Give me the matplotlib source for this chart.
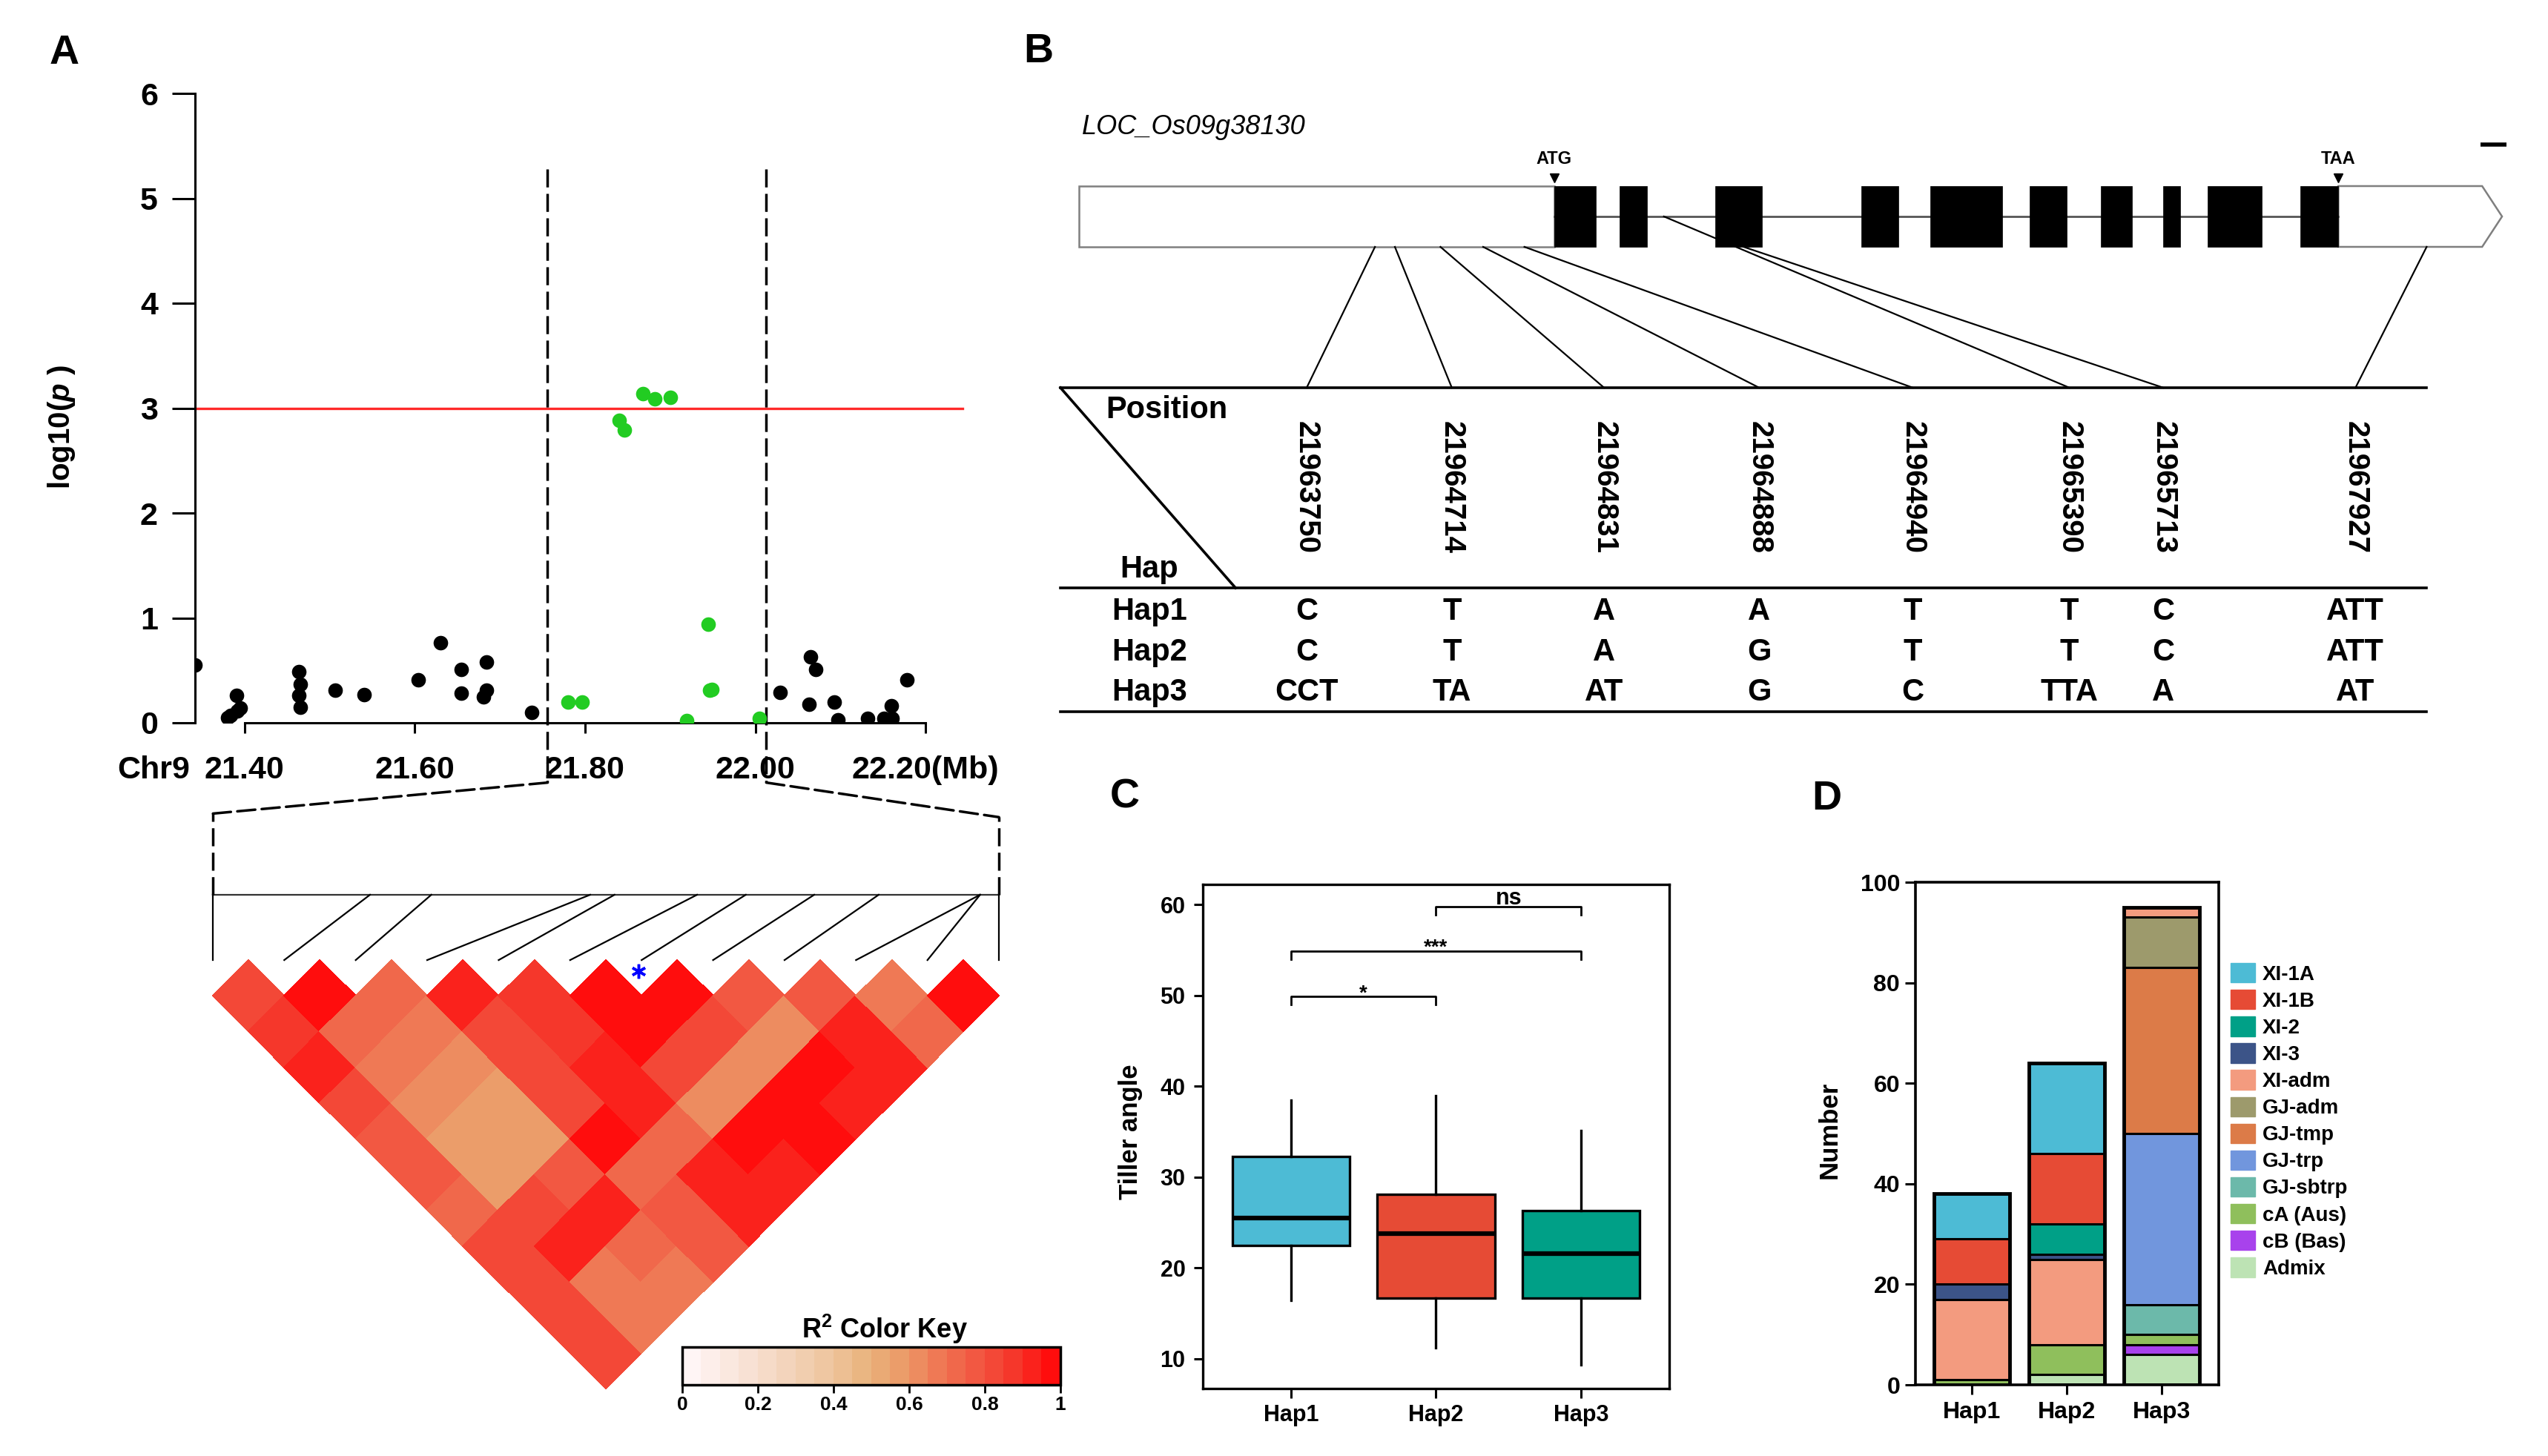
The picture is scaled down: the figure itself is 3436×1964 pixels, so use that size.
import numpy as np
import matplotlib
matplotlib.use('Agg')
import matplotlib.pyplot as plt
from matplotlib.patches import Rectangle, Polygon, Patch, ConnectionPatch
from matplotlib.colors import LinearSegmentedColormap, Normalize
from matplotlib.cm import ScalarMappable

plt.rcParams['font.family'] = ['Liberation Sans', 'DejaVu Sans']
plt.rcParams['font.weight'] = 'bold'
plt.rcParams['axes.labelweight'] = 'bold'
plt.rcParams['mathtext.fontset'] = 'custom'
plt.rcParams['mathtext.it'] = 'Liberation Sans:italic:bold'
plt.rcParams['mathtext.bf'] = 'Liberation Sans:bold'
plt.rcParams['mathtext.rm'] = 'Liberation Sans:bold'
plt.rcParams['mathtext.default'] = 'bf'

# ---- A: association scan on Chr9 (Mb, -log10 p) ----
black_pos = [21.342, 21.391, 21.384, 21.392, 21.395, 21.380, 21.464, 21.466, 21.464, 21.466,
             21.507, 21.541, 21.604, 21.630, 21.655, 21.655, 21.684, 21.684, 21.681, 21.737,
             22.029, 22.065, 22.071, 22.063, 22.093, 22.097, 22.132, 22.151, 22.160, 22.161, 22.178]
black_p = [0.55, 0.26, 0.07, 0.11, 0.14, 0.05, 0.49, 0.37, 0.26, 0.15,
           0.31, 0.27, 0.41, 0.76, 0.51, 0.28, 0.58, 0.31, 0.25, 0.10,
           0.29, 0.63, 0.51, 0.18, 0.20, 0.03, 0.04, 0.04, 0.16, 0.04, 0.41]
green_pos = [21.780, 21.797, 21.840, 21.846, 21.868, 21.882, 21.900, 21.919, 21.945, 21.946, 21.949, 22.005]
green_p = [0.20, 0.20, 2.88, 2.79, 3.14, 3.09, 3.10, 0.02, 0.94, 0.31, 0.32, 0.04]
threshold = 3
region = [21.756, 22.013]
scan_ticks = [21.40, 21.60, 21.80, 22.00, 22.20]
scan_tick_labels = ['21.40', '21.60', '21.80', '22.00', '22.20(Mb)']

# ---- A: LD block (r2 by diagonal offset, 12 SNPs) ----
ld_diag = [
    [0.80, 1.00, 0.72, 0.92, 0.85, 1.00, 1.00, 0.75, 0.78, 0.66, 1.00],
    [0.85, 0.72, 0.68, 0.80, 0.87, 1.00, 0.80, 0.60, 0.90, 0.70],
    [0.90, 0.66, 0.60, 0.82, 0.90, 0.80, 0.60, 0.95, 0.90],
    [0.82, 0.64, 0.55, 0.82, 0.92, 0.60, 0.95, 0.92],
    [0.78, 0.55, 0.55, 0.95, 0.72, 1.00, 0.95],
    [0.75, 0.55, 0.75, 0.72, 0.90, 0.93],
    [0.74, 0.80, 0.90, 0.75, 0.90],
    [0.80, 0.90, 0.70, 0.78],
    [0.80, 0.68, 0.68],
    [0.80, 0.68],
    [0.80],
]
ld_pos = [0.0, 0.200, 0.278, 0.480, 0.511, 0.616, 0.678, 0.765, 0.847, 0.976, 0.976, 1.0]
lead_snp = 6
key_ticks = [0, 0.2, 0.4, 0.6, 0.8, 1]
key_labels = ['0', '0.2', '0.4', '0.6', '0.8', '1']

# ---- B: gene model (schematic units 0-100) and haplotypes ----
exon_start = [33.4, 38.0, 44.7, 55.0, 59.8, 66.8, 71.8, 76.2, 79.3, 85.8]
exon_end = [36.3, 39.9, 48.0, 57.6, 64.9, 69.4, 74.0, 77.4, 83.1, 88.5]
arrow_start, gene_end = 98.6, 100.0
snp_gene_x = [20.8, 22.2, 25.4, 28.4, 31.3, 41.1, 46.7, 94.7]
snp_in_intron = [False, False, False, False, False, True, False, False]
col_x = [16.0, 26.2, 36.9, 47.8, 58.6, 69.6, 76.2, 89.7]
positions = ['21963750', '21964714', '21964831', '21964888', '21964940', '21965390', '21965713', '21967927']
hap_names = ['Hap1', 'Hap2', 'Hap3']
hap_alleles = [
    ['C', 'T', 'A', 'A', 'T', 'T', 'C', 'ATT'],
    ['C', 'T', 'A', 'G', 'T', 'T', 'C', 'ATT'],
    ['CCT', 'TA', 'AT', 'G', 'C', 'TTA', 'A', 'AT'],
]

# ---- C: tiller angle boxplot ----
box_med = [25.5, 23.8, 21.6]
box_q1 = [22.5, 16.7, 16.7]
box_q3 = [32.3, 28.1, 26.3]
box_lo = [16.4, 11.2, 9.3]
box_hi = [38.5, 39.0, 35.1]
box_colors = ['#4dbbd5', '#e64b35', '#00a087']
cmp_left = [1, 1, 2]
cmp_right = [2, 3, 3]
cmp_y = [49.9, 54.9, 59.8]
cmp_label = ['*', '***', 'ns']

# ---- D: subpopulation composition ----
subpops = ['XI-1A', 'XI-1B', 'XI-2', 'XI-3', 'XI-adm', 'GJ-adm', 'GJ-tmp', 'GJ-trp',
           'GJ-sbtrp', 'cA (Aus)', 'cB (Bas)', 'Admix']
sub_colors = ['#4dbbd5', '#e64b35', '#00a087', '#3c5488', '#f39b7f', '#9d9a6c', '#dc7b48',
              '#7196dd', '#6cb9aa', '#8fbf5c', '#a842ec', '#bde3b4']
sub_counts = [
    [9, 18, 0], [9, 14, 0], [0, 6, 0], [3, 1, 0], [16, 17, 2], [0, 0, 10],
    [0, 0, 33], [0, 0, 34], [0, 0, 6], [1, 6, 2], [0, 0, 2], [0, 2, 6],
]

W, H = 3437, 1964


def box(x0, y0, x1, y1):
    return [x0 / W, 1 - y1 / H, (x1 - x0) / W, (y1 - y0) / H]


fig = plt.figure(figsize=(W / 100, H / 100), dpi=100)

# ================= A: scan =================
ax_a = fig.add_axes(box(263, 126, 1363, 975))
ax_a.scatter(black_pos, black_p, s=200, color='black', zorder=3, linewidths=0)
ax_a.scatter(green_pos, green_p, s=200, color='#22cc22', zorder=3, linewidths=0)
ax_a.plot([21.342, 22.243], [threshold, threshold], color='#ff2a2a', lw=2.4, zorder=2)
for xb in region:
    ax_a.plot([xb, xb], [5.28, -0.57], color='black', lw=2.5, ls=(0, (7, 2.5)), clip_on=False)
ax_a.set_xlim(21.342, 22.30)
ax_a.set_ylim(0, 6)
ax_a.spines['top'].set_visible(False)
ax_a.spines['right'].set_visible(False)
ax_a.spines['bottom'].set_bounds(21.40, 22.20)
for s in ['left', 'bottom']:
    ax_a.spines[s].set_linewidth(2.2)
ax_a.set_xticks(scan_ticks)
ax_a.set_xticklabels(scan_tick_labels)
ax_a.set_yticks(range(7))
ax_a.tick_params(axis='y', length=22, width=2.2, pad=14, labelsize=31)
ax_a.tick_params(axis='x', length=10, width=2.2, pad=22, labelsize=31)
ax_a.text(21.336, -0.052, 'Chr9', transform=ax_a.get_xaxis_transform(),
          ha='right', va='top', fontsize=31)
ax_a.set_ylabel(r'log10($\mathit{p}$ )', fontsize=29)
ax_a.yaxis.set_label_coords(-0.145, 0.47)

# ================= A: LD heatmap =================
ld_cmap = LinearSegmentedColormap.from_list(
    'r2key', [(0, '#fff5f5'), (0.2, '#f6dccb'), (0.4, '#eec39a'), (0.5, '#e9b17a'),
              (0.6, '#ec9866'), (0.7, '#ef7352'), (0.8, '#f25540'), (0.9, '#f5352a'),
              (1.0, '#ff0d0d')], N=20)
n_snp = len(ld_pos)
ax_ld = fig.add_axes(box(258, 1083, 1376, 1883))
ax_ld.set_xlim(-0.3, 11.3)
ax_ld.set_ylim(-6.1, 2.2)
ax_ld.axis('off')
a, b = np.meshgrid(np.arange(n_snp), np.arange(n_snp), indexing='ij')
X = (a + b) / 2.0
Y = -(b - a) / 2.0 - 0.5
C = np.ma.masked_all((n_snp - 1, n_snp - 1))
for d, row in enumerate(ld_diag):
    for i, v in enumerate(row):
        C[i, i + d] = v
ax_ld.pcolormesh(X, Y, C, cmap=ld_cmap, vmin=0, vmax=1, edgecolors='face', linewidth=0.3)
line_y = 0.914
span = n_snp - 1
ax_ld.plot([0, span], [line_y, line_y], color='#333333', lw=1.6)
for k, p in enumerate(ld_pos):
    ax_ld.plot([p * span, k], [line_y, 0], color='black', lw=1.6)
for xe, ytop in [(0, 2.05), (span, 2.0)]:
    ax_ld.plot([xe, xe], [line_y, ytop], color='black', lw=2.5, ls=(0, (7, 2.5)))
ax_ld.plot(lead_snp - 0.04, -0.15, marker=(6, 2, 0), ms=14, mew=2.5, color='blue')
for xb, xe, ytop in [(region[0], 0, 2.05), (region[1], span, 2.0)]:
    con = ConnectionPatch(xyA=(xb, -0.57), coordsA=ax_a.transData, xyB=(xe, ytop),
                          coordsB=ax_ld.transData, color='black', lw=2.5, ls=(0, (7, 2.5)))
    fig.add_artist(con)

cax = fig.add_axes(box(920, 1817, 1430, 1868))
cb = fig.colorbar(ScalarMappable(norm=Normalize(0, 1), cmap=ld_cmap), cax=cax,
                  orientation='horizontal', ticks=key_ticks)
cb.ax.set_xticklabels(key_labels)
cb.outline.set_linewidth(2.5)
cax.tick_params(labelsize=19, length=8, width=2, pad=3)
cax.text(0.535, 1.04, r'R$^{2}$ Color Key', transform=cax.transAxes, ha='center',
         va='bottom', fontsize=26)

# ================= B: gene model + haplotype table =================
ax_b = fig.add_axes(box(1400, 140, 3437, 1000))
ax_b.set_xlim(-2.866, 103.28)
ax_b.set_ylim(1000, 140)
ax_b.axis('off')
gy0, gy1, gmid = 251, 333, 292
ax_b.add_patch(Rectangle((0, gy0), exon_start[0], gy1 - gy0, fc='white', ec='#7f7f7f', lw=1.8))
ax_b.add_patch(Polygon([(exon_end[-1], gy0), (arrow_start, gy0), (gene_end, gmid),
                        (arrow_start, gy1), (exon_end[-1], gy1)], closed=True,
                       fc='white', ec='#7f7f7f', lw=1.8))
ax_b.plot([exon_start[0], exon_end[-1]], [gmid, gmid], color='#555555', lw=2)
for s, e in zip(exon_start, exon_end):
    ax_b.add_patch(Rectangle((s, gy0), e - s, gy1 - gy0, fc='black', ec='black', lw=0.5, zorder=3))
for xc, lab in [(exon_start[0], 'ATG'), (exon_end[-1], 'TAA')]:
    ax_b.plot(xc, 240, marker='v', color='black', ms=9)
    ax_b.text(xc, 226, lab, ha='center', va='bottom', fontsize=17)
ax_b.plot([98.5, 100.3], [195, 195], color='black', lw=4, solid_capstyle='butt')
ax_b.text(0.2, 172, 'LOC_Os09g38130', style='italic', fontweight='normal', fontsize=26,
          ha='left', va='center')

table_top, table_mid, table_bot = 523, 793, 960
for tx, intr, cx in zip(snp_gene_x, snp_in_intron, col_x):
    ax_b.plot([tx, cx], [gmid if intr else gy1, table_top], color='black', lw=1.6)
for yl in [table_top, table_mid, table_bot]:
    ax_b.plot([-1.3, 94.7], [yl, yl], color='black', lw=2.6)
ax_b.plot([-1.3, 11.0], [table_top, table_mid], color='black', lw=2.6)
ax_b.text(1.9, 553, 'Position', ha='left', va='center', fontsize=30)
ax_b.text(2.9, 768, 'Hap', ha='left', va='center', fontsize=30)
for cx, p in zip(col_x, positions):
    ax_b.text(cx, 568, p, rotation=270, ha='center', va='top', fontsize=29)
for ry, name, alle in zip([825, 880, 934], hap_names, hap_alleles):
    ax_b.text(4.95, ry, name, ha='center', va='center', fontsize=30)
    for cx, al in zip(col_x, alle):
        ax_b.text(cx, ry, al, ha='center', va='center', fontsize=30)

# ================= C: boxplot =================
ax_c = fig.add_axes(box(1622, 1193, 2251, 1873))
stats = [dict(med=m, q1=q1, q3=q3, whislo=lo, whishi=hi, fliers=[])
         for m, q1, q3, lo, hi in zip(box_med, box_q1, box_q3, box_lo, box_hi)]
bp = ax_c.bxp(stats, positions=[1, 2, 3], widths=0.81, patch_artist=True, showcaps=False,
              showfliers=False, boxprops=dict(lw=2.4, edgecolor='black'),
              medianprops=dict(color='black', lw=4.5), whiskerprops=dict(lw=2.4, color='black'))
for patch, c in zip(bp['boxes'], box_colors):
    patch.set_facecolor(c)
for l, r, y, lab in zip(cmp_left, cmp_right, cmp_y, cmp_label):
    ax_c.plot([l, l, r, r], [y - 0.9, y, y, y - 0.9], color='black', lw=2)
    ax_c.text((l + r) / 2, y + (0.25 if lab == 'ns' else -0.25), lab, ha='center',
              va='baseline', fontsize=22 if lab == 'ns' else 20)
ax_c.set_xlim(0.392, 3.608)
ax_c.set_ylim(6.72, 62.24)
ax_c.set_yticks([10, 20, 30, 40, 50, 60])
ax_c.set_xticks([1, 2, 3])
ax_c.set_xticklabels(hap_names)
for s in ax_c.spines.values():
    s.set_linewidth(2.4)
ax_c.tick_params(axis='y', length=9, width=2.2, pad=8, labelsize=22)
ax_c.tick_params(axis='x', length=9, width=2.2, pad=6, labelsize=22)
ax_c.set_ylabel('Tiller angle', fontsize=25)
ax_c.yaxis.set_label_coords(-0.128, 0.509)

# ================= D: stacked bars =================
ax_d = fig.add_axes(box(2583, 1190, 2992, 1868))
xg = np.arange(1, 4)
bottom = np.zeros(3)
for name, col, vals in reversed(list(zip(subpops, sub_colors, sub_counts))):
    vals = np.array(vals, dtype=float)
    m = vals > 0
    ax_d.bar(xg[m], vals[m], bottom=bottom[m], width=0.8, color=col, edgecolor='black', lw=2.2)
    bottom += vals
ax_d.bar(xg, bottom, width=0.8, fill=False, edgecolor='black', lw=3.5)
ax_d.set_xlim(0.404, 3.606)
ax_d.set_ylim(0, 100)
ax_d.set_yticks([0, 20, 40, 60, 80, 100])
ax_d.set_xticks(xg)
ax_d.set_xticklabels(hap_names)
for s in ax_d.spines.values():
    s.set_linewidth(2.6)
ax_d.tick_params(axis='y', length=10, width=2.2, pad=5, labelsize=23)
ax_d.tick_params(axis='x', length=9, width=2.2, pad=7, labelsize=23)
ax_d.set_ylabel('Number', fontsize=25)
ax_d.yaxis.set_label_coords(-0.244, 0.507)
handles = [Patch(color=c) for c in sub_colors]
ax_d.legend(handles, subpops, loc='upper left', bbox_to_anchor=(3008 / W, 1 - 1299 / H),
            bbox_transform=fig.transFigure, frameon=False, fontsize=20, handlelength=1.19,
            handleheight=1.08, labelspacing=0.27, handletextpad=0.36, borderpad=0,
            borderaxespad=0)

# ================= panel letters =================
for lx, ly, lab in [(67, 46, 'A'), (1380, 44, 'B'), (1497, 1049, 'C'), (2443, 1052, 'D')]:
    fig.text(lx / W, 1 - ly / H, lab, fontsize=40, fontweight='heavy', ha='left', va='top')

fig.savefig('out.png', dpi=100)
